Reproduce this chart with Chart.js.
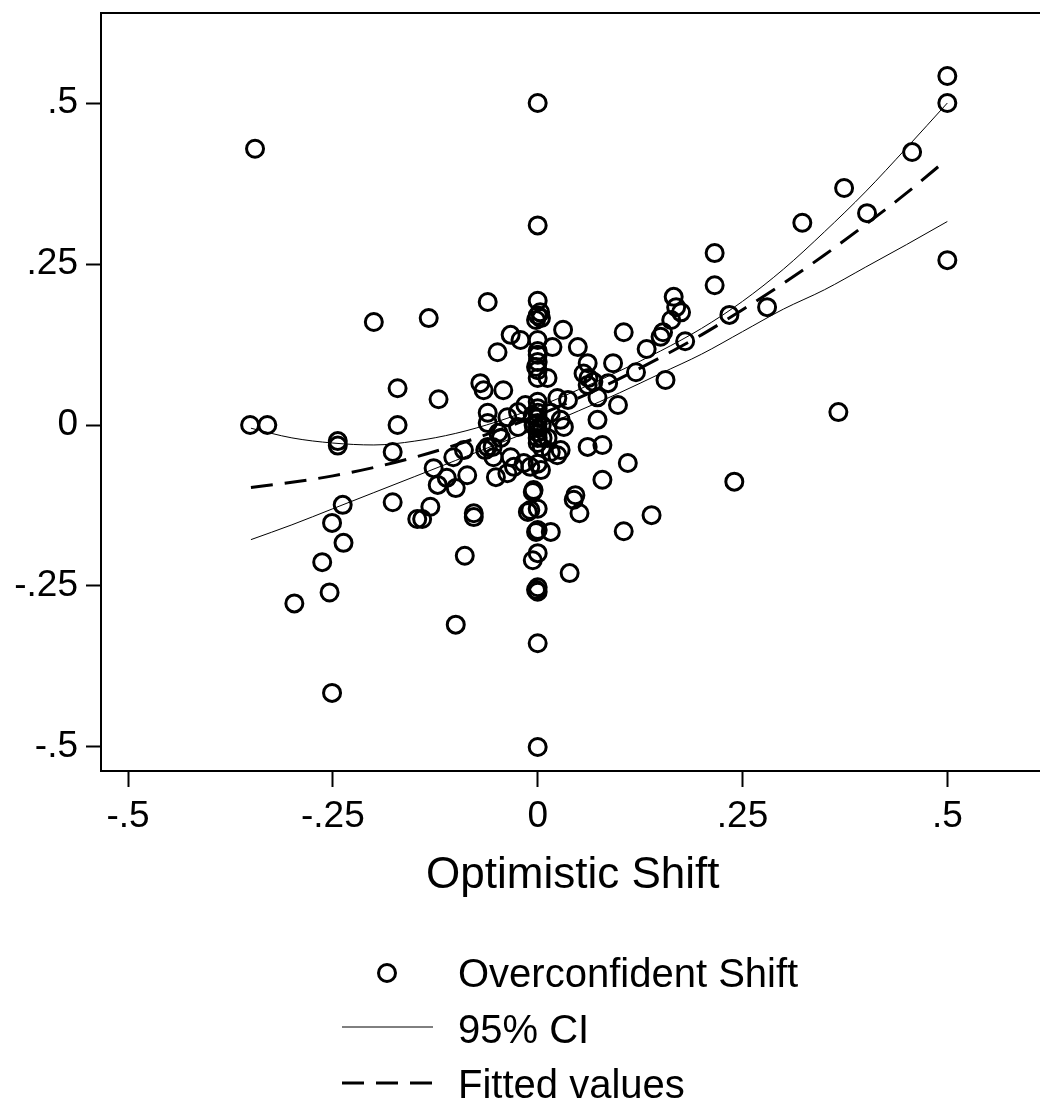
<!DOCTYPE html>
<html>
<head>
<meta charset="utf-8">
<script src="https://cdn.jsdelivr.net/npm/chart.js@4.4.0/dist/chart.umd.min.js"></script>
<style>
  html, body { margin: 0; padding: 0; background: #fff; overflow: hidden; }
  #wrap { width: 1056px; height: 1103px; }
  canvas { display: block; }
</style>
</head>
<body>
<div id="wrap"><canvas id="shiftChart" width="1056" height="1103" style="width:1056px;height:1103px"></canvas></div>
<script>
// Overconfident shift against optimistic shift, with quadratic fit and its 95% CI

// scatter points
const shiftX = [
  0.5, 0.5, 0.5, 0.457, 0.402, 0.374, 0.367, 0.323, 0.28, 0.234,
  0.24, 0.216, 0.216, 0.18, 0.175, 0.169, 0.166, 0.163, 0.153, 0.15,
  0.156, 0.139, 0.133, 0.12, 0.11, 0.105, 0.105, 0.098, 0.092, 0.086,
  0.079, 0.079, 0.073, 0.073, 0.068, 0.062, 0.061, 0.061, 0.061, 0.056,
  0.051, 0.049, 0.046, 0.044, 0.039, 0.037, 0.031, 0.032, 0.028, 0.028,
  0.024, 0.024, 0.018, 0.016, 0.016, 0.016, 0.012,
  0, 0, 0, 0, 0.004, -0.002, 0.003, 0, 0, 0,
  0, 0, 0, -0.002, 0, 0, 0, 0, 0, 0,
  0, 0, 0, 0.005, -0.005, 0.006, -0.006, 0.005, 0, -0.006,
  0, -0.012, 0, -0.002, 0, -0.006, 0, -0.002, 0, 0,
  0, -0.005, -0.009,
  -0.015, -0.021, -0.024, -0.029, -0.033, -0.033, -0.037, -0.037, -0.042, -0.048,
  -0.049, -0.051, -0.054, -0.055, -0.061, -0.061, -0.061, -0.061, -0.064, -0.066,
  -0.07, -0.078, -0.078, -0.086, -0.089, -0.09, -0.1, -0.1, -0.103, -0.111,
  -0.121, -0.122, -0.127, -0.131, -0.133, -0.141, -0.147, -0.171, -0.171, -0.177,
  -0.177, -0.2, -0.237, -0.238, -0.244, -0.244, -0.251, -0.251, -0.254, -0.263,
  -0.297, -0.33, -0.351, -0.345,
  -0.017, -0.009, 0.004, 0.012, -0.024, -0.045
];
const shiftY = [
  0.542, 0.5, 0.256, 0.424, 0.329, 0.368, 0.02, 0.314, 0.183, 0.171,
  -0.088, 0.267, 0.217, 0.13, 0.175, 0.183, 0.199, 0.163, 0.144, 0.137,
  0.07, -0.14, 0.118, 0.082, -0.059, 0.144, -0.165, 0.031, 0.096, 0.065,
  -0.031, -0.085, 0.043, 0.008, 0.067, 0.073, 0.096, 0.062, -0.034, 0.08,
  -0.137, 0.121, -0.109, -0.116, -0.23, 0.039, 0.148, -0.003, 0.008, -0.039,
  0.042, -0.047, 0.121, 0.019, -0.166, -0.042, 0.073,
  0.5, 0.31, 0.193, 0.17, 0.166, 0.163, 0.175, 0.132, 0.115, 0.109,
  0.098, 0.085, 0.073, 0.09, 0.036, 0.026, 0.019, 0.011, 0.003, -0.005,
  -0.012, -0.02, -0.028, 0.0, 0.0, -0.02, 0.015, -0.035, -0.06, -0.104,
  -0.13, -0.135, -0.163, -0.166, -0.199, -0.21, -0.252, -0.256, -0.259, -0.339,
  -0.5, -0.101, -0.132,
  0.031, 0.132, -0.003, -0.065, 0.14, -0.05, 0.012, -0.075, 0.054, -0.012,
  0.113, -0.081, -0.05, -0.034, 0.191, 0.019, 0.003, -0.034, -0.039, 0.054,
  0.065, -0.137, -0.143, -0.078, -0.203, -0.039, -0.098, -0.31, -0.05, -0.082,
  0.04, -0.093, -0.067, -0.127, 0.166, -0.146, -0.146, 0.057, 0.0, -0.042,
  -0.12, 0.16, -0.183, -0.124, -0.025, -0.032, -0.152, -0.416, -0.26, -0.213,
  -0.277, 0.0, 0.0, 0.429,
  -0.059, -0.065, -0.07, -0.02, 0.02, -0.02
];

// fitted line and confidence band
const fitX = [-0.35, -0.3, -0.25, -0.2, -0.15, -0.1, -0.05, 0, 0.05, 0.1, 0.15, 0.2, 0.25, 0.3, 0.35, 0.4, 0.45, 0.5];
const fitY = [-0.097, -0.089, -0.079, -0.066, -0.05, -0.031, -0.009, 0.015, 0.042, 0.072, 0.105, 0.14, 0.179, 0.22, 0.264, 0.311, 0.36, 0.413];
const ciUpper = [-0.005, -0.02, -0.028, -0.031, -0.025, -0.013, 0.005, 0.028, 0.055, 0.084, 0.115, 0.15, 0.192, 0.242, 0.3, 0.362, 0.43, 0.5];
const ciLower = [-0.178, -0.155, -0.13, -0.105, -0.08, -0.055, -0.03, -0.005, 0.022, 0.05, 0.08, 0.11, 0.145, 0.18, 0.21, 0.245, 0.28, 0.316];

// axis ticks
const xTicks = [-0.5, -0.25, 0, 0.25, 0.5];
const xTickLabels = ['-.5', '-.25', '0', '.25', '.5'];
const yTicks = [-0.5, -0.25, 0, 0.25, 0.5];
const yTickLabels = ['-.5', '-.25', '0', '.25', '.5'];

const fontFamily = '"Liberation Sans", Arial, Helvetica, sans-serif';

function toPoints(xs, ys) {
  return xs.map((x, i) => ({ x: x, y: ys[i] }));
}

// top edge of the plot region
const topBorder = {
  id: 'topBorder',
  afterDraw(chart) {
    const { ctx, chartArea } = chart;
    ctx.save();
    ctx.strokeStyle = '#000';
    ctx.lineWidth = 2;
    ctx.beginPath();
    ctx.moveTo(chartArea.left, chartArea.top);
    ctx.lineTo(chart.width, chartArea.top);
    ctx.stroke();
    ctx.restore();
  }
};

// stacked legend under the axis title
const stackedLegend = {
  id: 'stackedLegend',
  afterDraw(chart) {
    const ctx = chart.ctx;
    const sets = chart.data.datasets;
    const textX = 458;
    ctx.save();
    ctx.fillStyle = '#000';
    ctx.strokeStyle = '#000';
    ctx.font = '40px ' + fontFamily;
    ctx.textBaseline = 'alphabetic';

    // marker
    ctx.lineWidth = 3;
    ctx.beginPath();
    ctx.arc(387, 973, 8.5, 0, Math.PI * 2);
    ctx.stroke();
    ctx.fillText(sets[0].label, textX, 987);

    // CI line
    ctx.lineWidth = 1;
    ctx.beginPath();
    ctx.moveTo(342, 1027);
    ctx.lineTo(433, 1027);
    ctx.stroke();
    ctx.fillText(sets[1].label, textX, 1043);

    // fitted dashed
    ctx.lineWidth = 3;
    ctx.setLineDash([22, 12]);
    ctx.beginPath();
    ctx.moveTo(342, 1083);
    ctx.lineTo(433, 1083);
    ctx.stroke();
    ctx.setLineDash([]);
    ctx.fillText(sets[3].label, textX, 1098);
    ctx.restore();
  }
};

const ctx = document.getElementById('shiftChart').getContext('2d');
new Chart(ctx, {
  type: 'scatter',
  data: {
    datasets: [
      {
        label: 'Overconfident Shift',
        data: toPoints(shiftX, shiftY),
        pointStyle: 'circle',
        pointRadius: 8.5,
        pointBorderWidth: 3,
        borderColor: '#000',
        backgroundColor: 'rgba(0,0,0,0)',
        order: 3
      },
      {
        label: '95% CI',
        data: toPoints(fitX, ciUpper),
        showLine: true,
        pointRadius: 0,
        borderWidth: 1,
        borderColor: '#000',
        cubicInterpolationMode: 'monotone',
        order: 2
      },
      {
        label: '95% CI (lower)',
        data: toPoints(fitX, ciLower),
        showLine: true,
        pointRadius: 0,
        borderWidth: 1,
        borderColor: '#000',
        cubicInterpolationMode: 'monotone',
        order: 2
      },
      {
        label: 'Fitted values',
        data: toPoints(fitX, fitY),
        showLine: true,
        pointRadius: 0,
        borderWidth: 3,
        borderColor: '#000',
        borderDash: [22, 12],
        cubicInterpolationMode: 'monotone',
        order: 1
      }
    ]
  },
  options: {
    responsive: false,
    animation: false,
    layout: { padding: { top: 13, left: 0, right: 0, bottom: 201 } },
    plugins: {
      legend: { display: false },
      tooltip: { enabled: false }
    },
    scales: {
      x: {
        type: 'linear',
        min: -0.533,
        max: 0.6186,
        afterBuildTicks: s => { s.ticks = xTicks.map(v => ({ value: v })); },
        afterFit: s => { s.height = 131; s.paddingLeft = 0; s.paddingRight = 0; },
        ticks: {
          autoSkip: false,
          maxRotation: 0,
          padding: 8,
          color: '#000',
          font: { size: 37, family: fontFamily },
          callback: v => xTickLabels[xTicks.indexOf(v)]
        },
        grid: {
          drawOnChartArea: false,
          drawTicks: true,
          tickLength: 16,
          tickWidth: 2,
          tickColor: '#000'
        },
        border: { display: true, color: '#000', width: 2 },
        title: {
          display: true,
          text: 'Optimistic Shift',
          color: '#000',
          padding: 0,
          font: { size: 44, family: fontFamily }
        }
      },
      y: {
        type: 'linear',
        min: -0.5373,
        max: 0.6398,
        afterBuildTicks: s => { s.ticks = yTicks.map(v => ({ value: v })); },
        afterFit: s => { s.width = 101; s.paddingTop = 0; s.paddingBottom = 0; },
        ticks: {
          autoSkip: false,
          padding: 8,
          color: '#000',
          font: { size: 37, family: fontFamily },
          callback: v => yTickLabels[yTicks.indexOf(v)]
        },
        grid: {
          drawOnChartArea: false,
          drawTicks: true,
          tickLength: 15,
          tickWidth: 2,
          tickColor: '#000'
        },
        border: { display: true, color: '#000', width: 2 }
      }
    }
  },
  plugins: [topBorder, stackedLegend]
});
</script>
</body>
</html>
